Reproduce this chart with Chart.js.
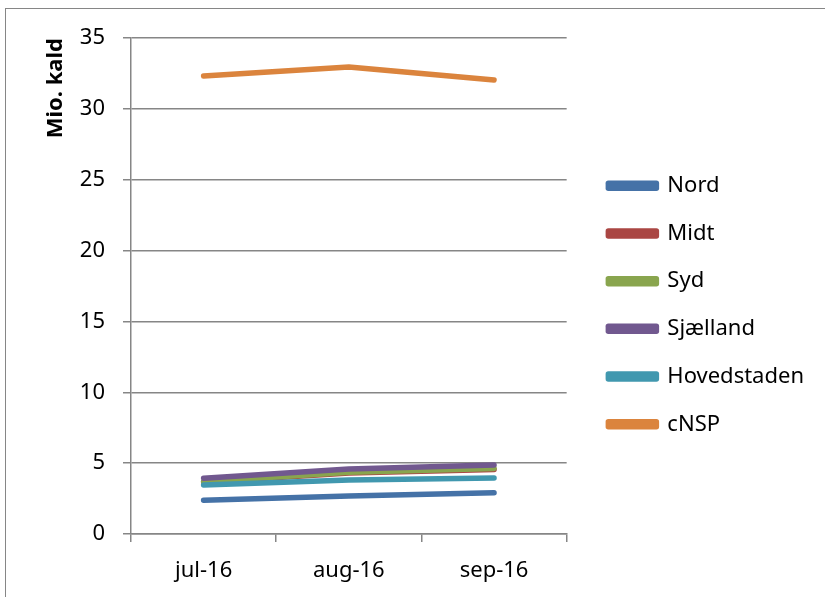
<!DOCTYPE html>
<html>
<head>
<meta charset="utf-8">
<script src="https://cdn.jsdelivr.net/npm/chart.js@4"></script>
<style>
  html, body { margin: 0; padding: 0; background: #fff; }
  #wrap { position: relative; width: 825px; height: 597px; }
  #frame { position: absolute; left: 5px; top: 8px; width: 830px; height: 600px;
           border-left: 1.5px solid #868686; border-top: 1.5px solid #868686; }
  canvas { position: absolute; left: 0; top: 0; }
</style>
</head>
<body>
<div id="wrap">
  <div id="frame"></div>
  <canvas id="chart" width="825" height="597"></canvas>
</div>
<script>
const categories = ['jul-16', 'aug-16', 'sep-16'];
const seriesNames = ['Nord', 'Midt', 'Syd', 'Sjælland', 'Hovedstaden', 'cNSP'];
const nord = [2.38, 2.68, 2.91];
const midt = [3.66, 4.30, 4.55];
const syd = [3.69, 4.35, 4.63];
const sjaelland = [3.93, 4.59, 4.87];
const hovedstaden = [3.46, 3.81, 3.95];
const cnsp = [32.32, 32.96, 32.04];
const yTicks = [0, 5, 10, 15, 20, 25, 30, 35];

const seriesValues = [nord, midt, syd, sjaelland, hovedstaden, cnsp];
const colors = ['#4572A7', '#AA4643', '#89A54E', '#71588F', '#4198AF', '#DB843D'];
const gridColor = '#868686';
const font = 'Noto Sans';

// Excel paints later series on top, so give them the lower order
const datasets = seriesNames.map((name, i) => ({
  label: name,
  data: seriesValues[i],
  borderColor: colors[i],
  backgroundColor: colors[i],
  borderWidth: 5.5,
  borderCapStyle: 'round',
  borderJoinStyle: 'round',
  pointRadius: 0,
  tension: 0,
  order: seriesNames.length - i
}));

new Chart(document.getElementById('chart'), {
  type: 'line',
  data: { labels: categories, datasets: datasets },
  options: {
    responsive: false,
    animation: false,
    layout: { padding: { left: 0, right: 11, top: 10, bottom: -3 } },
    plugins: {
      tooltip: { enabled: false },
      legend: {
        position: 'right',
        maxWidth: 400,
        labels: {
          boxWidth: 48,
          boxHeight: 5,
          padding: 25.7,
          color: '#000',
          font: { family: font, size: 22 },
          sort: (a, b) => a.datasetIndex - b.datasetIndex
        }
      }
    },
    scales: {
      x: {
        offset: true,
        grid: { display: true, offset: true, drawOnChartArea: false, drawTicks: true,
                tickLength: 8, color: gridColor, lineWidth: 1.5 },
        border: { display: true, color: gridColor, width: 1.5 },
        ticks: { color: '#000', padding: 15.8, font: { family: font, size: 22 } }
      },
      // empty top band, only pushes the plot area down
      x2: {
        position: 'top',
        display: true,
        afterFit: (s) => { s.height = 28; },
        grid: { display: false },
        border: { display: false },
        ticks: { display: false }
      },
      y: {
        min: 0,
        max: 35,
        afterFit: (s) => { s.width = 131; },
        afterBuildTicks: (s) => { s.ticks = yTicks.map(v => ({ value: v })); },
        grid: { color: gridColor, lineWidth: 1.5, tickLength: 8 },
        border: { display: true, color: gridColor, width: 1.5 },
        ticks: { color: '#000', padding: 18, font: { family: font, size: 22 } },
        title: {
          display: true,
          text: 'Mio. kald',
          align: 'end',
          color: '#000',
          padding: { top: 43, bottom: 0 },
          font: { family: font, size: 22, weight: 'bold' }
        }
      },
      // empty right band, gap between plot and legend
      y2: {
        position: 'right',
        display: true,
        afterFit: (s) => { s.width = 16; },
        grid: { display: false },
        border: { display: false },
        ticks: { display: false }
      }
    }
  }
});
</script>
</body>
</html>
